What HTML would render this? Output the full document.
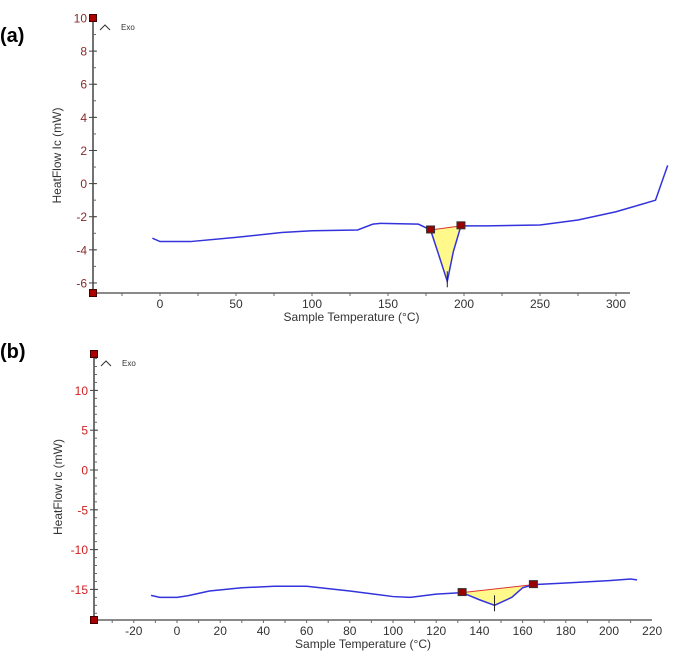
<!DOCTYPE html>
<html><head><meta charset="utf-8"><style>
html,body{margin:0;padding:0;background:#fff;width:685px;height:653px;overflow:hidden}
svg{display:block;font-family:"Liberation Sans",sans-serif}
</style></head><body>
<svg id="s" width="685" height="653" viewBox="0 0 685 653"></svg>
<script>
// Panel (a) data
const aTemps=[-5,0,20,50,80,100,130,140,145,170,178,183,189,193,198,215,250,275,300,315,326,334];
const aHeat=[-3.3,-3.5,-3.5,-3.25,-2.95,-2.85,-2.8,-2.45,-2.4,-2.45,-2.8,-4.2,-5.9,-4.1,-2.55,-2.55,-2.5,-2.2,-1.7,-1.3,-1.0,1.1];
const aXTicks=[0,50,100,150,200,250,300];
const aYTicks=[-6,-4,-2,0,2,4,6,8,10];
const aPeak=[178,198];
// Panel (b) data
const bTemps=[-12,-8,0,5,15,30,45,60,80,100,108,120,132,140,147,155,160,165,180,200,210,213];
const bHeat=[-15.75,-16,-16,-15.8,-15.2,-14.8,-14.6,-14.6,-15.2,-15.9,-16,-15.6,-15.4,-16.3,-17.0,-16.0,-14.8,-14.4,-14.2,-13.9,-13.7,-13.8];
const bXTicks=[-20,0,20,40,60,80,100,120,140,160,180,200,220];
const bYTicks=[-15,-10,-5,0,5,10];
const bPeak=[132,165];

const NS="http://www.w3.org/2000/svg",S=document.getElementById('s');
function el(t,a,p){const e=document.createElementNS(NS,t);for(const k in a)e.setAttribute(k,a[k]);(p||S).appendChild(e);return e;}
function txt(x,y,s,a,p){const e=el('text',Object.assign({x:x,y:y},a),p);e.textContent=s;return e;}

function panel(cfg){
  const g=el('g',{});
  
  
  const X=v=>cfg.x0+(v-cfg.xv0)*cfg.xs, Y=v=>cfg.y0-(v-cfg.yv0)*cfg.ys;
  const lab=txt(0,cfg.labY,cfg.label,{'font-size':20,'font-weight':'bold',fill:'#000'},g);
  
  
  const ya=el('line',{x1:cfg.ax,y1:cfg.top,x2:cfg.ax,y2:cfg.bot,stroke:'#444','stroke-width':1.5},g);
  
  
  const xa=el('line',{x1:cfg.ax,y1:cfg.bot,x2:cfg.xend,y2:cfg.bot,stroke:'#444','stroke-width':1.2},g);
  
  
  for(let v=cfg.yMinorStart;v<=cfg.yMinorEnd;v+=cfg.yMinor){const y=Y(v);if(y>cfg.top+2&&y<cfg.bot-2)el('line',{x1:cfg.ax,y1:y,x2:cfg.ax+3,y2:y,stroke:'#666'},g);}
  cfg.yTicks.forEach(v=>{const y=Y(v);el('line',{x1:cfg.ax-4,y1:y,x2:cfg.ax+4,y2:y,stroke:'#444'},g);
    const t=txt(cfg.ax-6,y+4.5,String(v),{'font-size':12,fill:cfg.yCol,'text-anchor':'end'},g);
    
    });
  for(let v=cfg.xMinorStart;v<=cfg.xMinorEnd;v+=cfg.xMinor){const x=X(v);if(x>cfg.ax+2&&x<cfg.xend)el('line',{x1:x,y1:cfg.bot,x2:x,y2:cfg.bot+3,stroke:'#666'},g);}
  cfg.xTicks.forEach(v=>{const x=X(v);
    const t=txt(x,cfg.bot+15,String(v),{'font-size':12,fill:'#333','text-anchor':'middle'},g);
    
    });
  const xt=txt((cfg.ax+cfg.xend)/2-10,cfg.bot+28,'Sample Temperature (°C)',{'font-size':12,fill:'#333','text-anchor':'middle'},g);
  
  
  const yc=(cfg.top+cfg.bot)/2;
  const yt=txt(cfg.ax-32,yc,'HeatFlow Ic (mW)',{'font-size':12,fill:'#333','text-anchor':'middle',transform:`rotate(-90 ${cfg.ax-32} ${yc})`},g);
  
  
  [cfg.top,cfg.bot].forEach(y=>{const m=el('rect',{x:cfg.ax-3.5,y:y-3.5,width:7,height:7,fill:'#a00',stroke:'#400'},g);
    
    });
  el('path',{d:`M${cfg.ax+7} ${cfg.top+12} l5 -5 l5 5`,fill:'none',stroke:'#333'},g);
  const ex=txt(cfg.ax+28,cfg.top+12,'Exo',{'font-size':8,fill:'#333'},g);
  
  
  const interp=t=>{for(let i=1;i<cfg.t.length;i++){if(t<=cfg.t[i]){const f=(t-cfg.t[i-1])/(cfg.t[i]-cfg.t[i-1]);return cfg.h[i-1]+f*(cfg.h[i]-cfg.h[i-1]);}}return cfg.h[cfg.h.length-1];};
  const p0=cfg.peak[0],p1=cfg.peak[1],h0=interp(p0),h1=interp(p1);
  let d=`M${X(p0)} ${Y(h0)}`;
  cfg.t.forEach((t,i)=>{if(t>p0&&t<p1)d+=` L${X(t)} ${Y(cfg.h[i])}`;});
  d+=` L${X(p1)} ${Y(h1)} Z`;
  const pf=el('path',{d:d,fill:'#fff88a',stroke:'none'},g);
  
  
  const bl=el('line',{x1:X(p0),y1:Y(h0),x2:X(p1),y2:Y(h1),stroke:'#d33','stroke-width':1},g);
  
  
  const pts=cfg.t.map((t,i)=>`${X(t)},${Y(cfg.h[i])}`).join(' ');
  const ln=el('polyline',{points:pts,fill:'none',stroke:'#3333dd','stroke-width':1.5},g);
  
  
  [[p0,h0],[p1,h1]].forEach(([t,h])=>{const m=el('rect',{x:X(t)-4,y:Y(h)-4,width:8,height:7,fill:'#900',stroke:'#333'},g);
    
    });
  const mi=cfg.h.indexOf(Math.min(...cfg.h));
  el('line',{x1:X(cfg.t[mi]),y1:Y(cfg.h[mi])-10,x2:X(cfg.t[mi]),y2:Y(cfg.h[mi])+6,stroke:'#222'},g);
}
panel({name:'panel-a',label:'(a)',labY:42,t:aTemps,h:aHeat,xTicks:aXTicks,yTicks:aYTicks,peak:aPeak,
  x0:160,xv0:0,xs:1.52,y0:183.6,yv0:0,ys:16.56,ax:93,top:18,bot:293,xend:630,yCol:'#8b2a2a',
  yMinorStart:-6,yMinorEnd:10,yMinor:1,xMinorStart:-25,xMinorEnd:325,xMinor:25});
panel({name:'panel-b',label:'(b)',labY:358,t:bTemps,h:bHeat,xTicks:bXTicks,yTicks:bYTicks,peak:bPeak,
  x0:177,xv0:0,xs:2.16,y0:470,yv0:0,ys:7.96,ax:94,top:354,bot:620,xend:652,yCol:'#d02020',
  yMinorStart:-20,yMinorEnd:15,yMinor:1,xMinorStart:-30,xMinorEnd:220,xMinor:10});
</script>
</body></html>
